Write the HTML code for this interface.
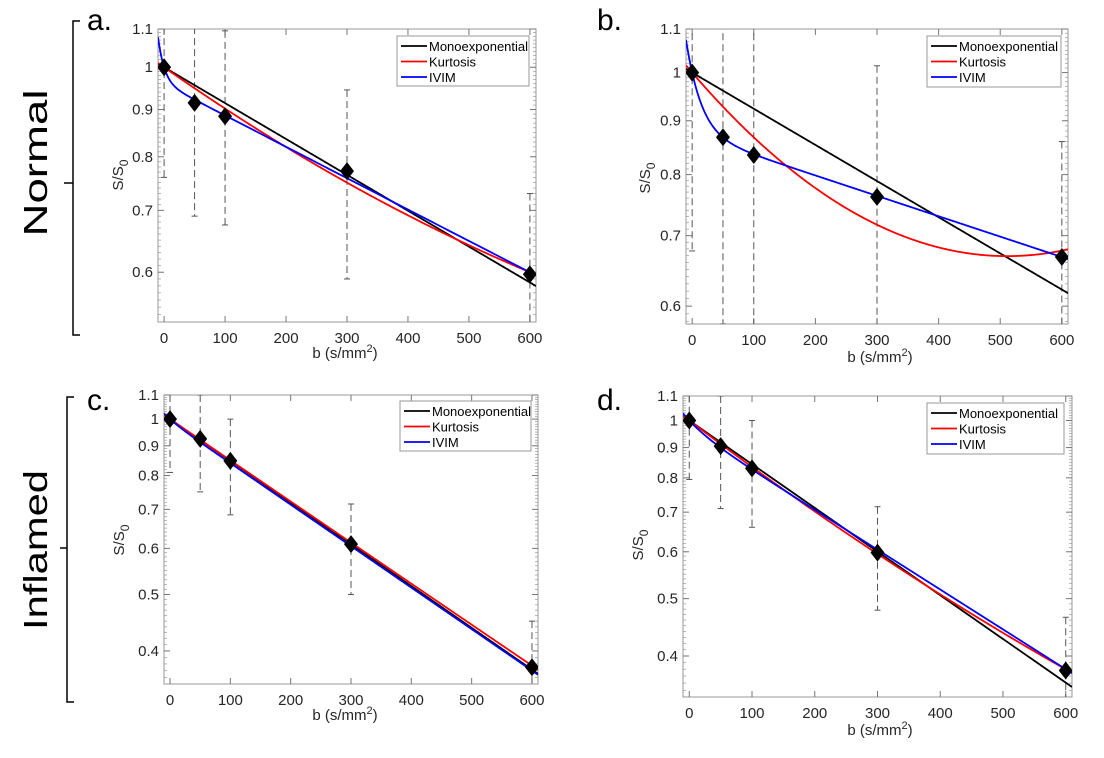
<!DOCTYPE html>
<html><head><meta charset="utf-8"><style>
body{margin:0;background:#fff;}
svg{display:block;font-family:"Liberation Sans",sans-serif;}
</style></head><body>
<svg id="fig" width="1104" height="758" viewBox="0 0 1104 758">
<g stroke="#000" stroke-width="1.5" fill="none">
<path d="M80 21 H73 V335 H80 M73 183 H64"/></g>
<g stroke="#000" stroke-width="1.5" fill="none">
<path d="M74 397 H67 V702 H74 M67 548 H60"/></g>
<text transform="translate(47,163) rotate(-90)" text-anchor="middle" font-size="33" textLength="147" lengthAdjust="spacingAndGlyphs">Normal</text>
<text transform="translate(47,550) rotate(-90)" text-anchor="middle" font-size="33" textLength="160" lengthAdjust="spacingAndGlyphs">Inflamed</text>
<text x="87" y="30" font-size="30">a.</text>
<text x="597" y="30" font-size="30">b.</text>
<text x="87" y="410" font-size="30">c.</text>
<text x="597" y="410" font-size="30">d.</text>
</svg>
<script>
// ---- data ----
const bValues = [0, 50, 100, 300, 600];
const xTickLabels = [0, 100, 200, 300, 400, 500, 600];
const yTicksTop = [0.6, 0.7, 0.8, 0.9, 1, 1.1];
const yTicksBottom = [0.4, 0.5, 0.6, 0.7, 0.8, 0.9, 1, 1.1];
const seriesNames = ["Monoexponential", "Kurtosis", "IVIM"];
// panel a (Normal)
const meanA = [1.0, 0.915, 0.885, 0.772, 0.597];
const upperA = [1.2, 1.2, 1.095, 0.945, 0.73];
const lowerA = [0.76, 0.69, 0.675, 0.59, 0.4];
const monoA = [1.0, 0.000894];
const kurtA = [1.0, -0.001066, 3.58e-7];
const ivimA = [0.041, 0.1, 0.000782];
// panel b
const meanB = [1.0, 0.868, 0.835, 0.762, 0.668];
const upperB = [1.2, 1.2, 1.2, 1.015, 0.86];
const lowerB = [0.677, 0.577, 0.5, 0.5, 0.5];
const monoB = [1.0, 0.000791];
const kurtB = [1.0, -0.00157, 1.535e-6];
const ivimB = [0.127, 0.044, 0.000446];
// panel c (Inflamed)
const meanC = [1.0, 0.925, 0.848, 0.61, 0.375];
const upperC = [1.2, 1.1, 1.0, 0.715, 0.45];
const lowerC = [0.81, 0.75, 0.685, 0.50, 0.3];
const monoC = [1.0, 0.00165];
const kurtC = [1.0, -0.00163, 1e-8];
const ivimC = [0.01, 0.05, 0.00164];
// panel d
const meanD = [1.0, 0.905, 0.83, 0.598, 0.378];
const upperD = [1.2, 1.1, 1.0, 0.715, 0.465];
const lowerD = [0.795, 0.71, 0.66, 0.478, 0.3];
const monoD = [1.0, 0.0017];
const kurtD = [1.0, -0.001847, 3.89e-7];
const ivimD = [0.037, 0.03, 0.00155];

const NS = "http://www.w3.org/2000/svg";
const svg = document.getElementById("fig");
function mk(tag, attrs, parent){const e=document.createElementNS(NS,tag);for(const k in attrs)e.setAttribute(k,attrs[k]);(parent||svg).appendChild(e);return e;}

function panel(id, box, yMin, yTicks, mean, up, lo, mono, kurt, ivim, legBox, ylab, xlab){
  const [L,T,R,B]=box, xMin=-10, xMax=610, yMax=1.1;
  const sx=v=>L+(v-xMin)/(xMax-xMin)*(R-L);
  const sy=v=>B-(Math.log(v)-Math.log(yMin))/(Math.log(yMax)-Math.log(yMin))*(B-T);
  const g=mk("g",{});
  
  
  const cid='clip-'+id;
  const cp=mk("clipPath",{id:cid},g); mk("rect",{x:L,y:T,width:R-L,height:B-T},cp);
  const fr=mk("rect",{x:L,y:T,width:R-L,height:B-T,fill:"none",stroke:"#999","stroke-width":1},g);
  
  
  for(let v=Math.ceil(yMin*100)/100; v<=1.1001; v+=0.01){
    const y=sy(v);
    mk("line",{x1:L,x2:L+3,y1:y,y2:y,stroke:"#999","stroke-width":0.7},g);
    mk("line",{x1:R,x2:R-3,y1:y,y2:y,stroke:"#999","stroke-width":0.7},g);
  }
  yTicks.forEach(v=>{
    const y=sy(v);
    mk("line",{x1:L,x2:L+6,y1:y,y2:y,stroke:"#777"},g);
    mk("line",{x1:R,x2:R-6,y1:y,y2:y,stroke:"#777"},g);
    const t=mk("text",{x:L-5,y:y+5,"text-anchor":"end","font-size":15,fill:"#262626"},g);
    t.textContent=String(v);
    
    
  });
  xTickLabels.forEach(v=>{
    const x=sx(v);
    mk("line",{x1:x,x2:x,y1:B,y2:B-6,stroke:"#777"},g);
    mk("line",{x1:x,x2:x,y1:T,y2:T+6,stroke:"#777"},g);
    const t=mk("text",{x:x,y:B+21,"text-anchor":"middle","font-size":15,fill:"#262626"},g);
    t.textContent=String(v);
    
    
  });
  const yl=mk("text",{transform:`translate(${ylab[0]},${ylab[1]}) rotate(-90)`,"text-anchor":"middle","font-size":15,fill:"#262626"},g);
  yl.innerHTML='S/S<tspan font-size="12" dy="5">0</tspan>';
  
  
  const xl=mk("text",{x:xlab[0],y:xlab[1],"text-anchor":"middle","font-size":15,fill:"#262626"},g);
  xl.innerHTML='b (s/mm<tspan font-size="11" dy="-6">2</tspan><tspan dy="6">)</tspan>';
  
  
  const pg=mk("g",{"clip-path":`url(#${cid})`},g);
  bValues.forEach((b,i)=>{
    const x=sx(b), y1=sy(up[i]), y2=sy(lo[i]);
    const e=mk("line",{x1:x,x2:x,y1:y1,y2:y2,stroke:"#555","stroke-width":1,"stroke-dasharray":"7,4"},pg);
    
    
    mk("line",{x1:x-3,x2:x+3,y1:y1,y2:y1,stroke:"#555"},pg);
    mk("line",{x1:x-3,x2:x+3,y1:y2,y2:y2,stroke:"#555"},pg);
  });
  const fns=[
    b=>mono[0]*Math.exp(-b*mono[1]),
    b=>kurt[0]*Math.exp(kurt[1]*b+kurt[2]*b*b),
    b=>ivim[0]*Math.exp(-b*ivim[1])+(1-ivim[0])*Math.exp(-b*ivim[2])
  ];
  const cols=["#000","#f00","#00f"];
  fns.forEach((f,k)=>{
    let d="";
    for(let b=xMin;b<=xMax;b+=2){d+=(d?"L":"M")+sx(b).toFixed(2)+" "+sy(f(b)).toFixed(2);}
    const p=mk("path",{d:d,fill:"none",stroke:cols[k],"stroke-width":1.8},pg);
    
    
  });
  bValues.forEach((b,i)=>{
    const x=sx(b), y=sy(mean[i]);
    const m=mk("path",{d:`M${x} ${y-9}L${x+7} ${y}L${x} ${y+9}L${x-7} ${y}Z`,fill:"#000"},pg);
    
    
  });
  const [lx,ly,lw,lh]=legBox;
  const lg=mk("g",{},g);
  
  
  mk("rect",{x:lx,y:ly,width:lw,height:lh,fill:"#fff",stroke:"#999"},lg);
  seriesNames.forEach((n,k)=>{
    const yy=ly+10+k*15.5;
    mk("line",{x1:lx+4,x2:lx+30,y1:yy,y2:yy,stroke:cols[k],"stroke-width":1.8},lg);
    const t=mk("text",{x:lx+32,y:yy+5,"font-size":13,fill:"#000"},lg);
    t.textContent=n;
    
    
  });
}
panel("a",[158,29,536,322],0.53,yTicksTop,meanA,upperA,lowerA,monoA,kurtA,ivimA,[397,36,132,50],[123,175],[345,358]);
panel("b",[686,29,1068,324],0.577,yTicksTop,meanB,upperB,lowerB,monoB,kurtB,ivimB,[927,36,134,51],[650,178],[880,362]);
panel("c",[164,395,538,684],0.351,yTicksBottom,meanC,upperC,lowerC,monoC,kurtC,ivimC,[400,401,131,50],[124,540],[345,720]);
panel("d",[683,396,1072,697],0.341,yTicksBottom,meanD,upperD,lowerD,monoD,kurtD,ivimD,[927,403,137,51],[643,545],[880,735]);
</script>
</body></html>
